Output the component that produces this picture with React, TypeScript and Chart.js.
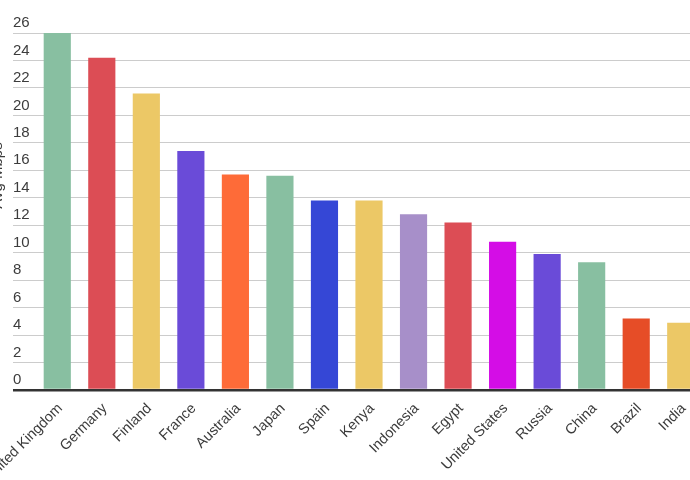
import React, { useEffect, useRef } from "react";
import { Chart, registerables } from "chart.js";

Chart.register(...registerables);

const categories = [
  "United Kingdom", "Germany", "Finland", "France", "Australia", "Japan", "Spain",
  "Kenya", "Indonesia", "Egypt", "United States", "Russia", "China", "Brazil", "India",
];
const avgMbps = [26.0, 24.2, 21.6, 17.4, 15.7, 15.6, 13.8, 13.8, 12.8, 12.2, 10.8, 9.9, 9.3, 5.2, 4.9];
const barColors = [
  "#88bfa1", "#dc4d55", "#ecc866", "#6a4bd8", "#fe6b38", "#88bfa1", "#3547d6",
  "#ecc866", "#a78fc9", "#dc4d55", "#d40de6", "#6a4bd8", "#88bfa1", "#e64d27", "#ecc866",
];
const yTitle = "Avg Mbps";
const yMin = 0;
const yMax = 26;
const yStep = 2;

const FONT = "'Liberation Sans', Arial, sans-serif";

const yTitlePlugin = {
  id: "yTitlePlugin",
  afterDraw(chart: any) {
    const { ctx, chartArea } = chart;
    ctx.save();
    ctx.translate(2, (chartArea.top + chartArea.bottom) / 2 - 36);
    ctx.rotate(-Math.PI / 2);
    ctx.font = `15px ${FONT}`;
    ctx.fillStyle = "#3c3c3c";
    ctx.textAlign = "center";
    ctx.textBaseline = "alphabetic";
    ctx.fillText(yTitle, 0, 0);
    ctx.restore();
  },
};

export default function App() {
  const ref = useRef<HTMLCanvasElement | null>(null);

  useEffect(() => {
    if (!ref.current) return;
    const chart = new Chart(ref.current, {
      type: "bar",
      data: {
        labels: categories,
        datasets: [
          {
            data: avgMbps,
            backgroundColor: barColors,
            borderWidth: 0,
            categoryPercentage: 1,
            barPercentage: 0.61,
          },
        ],
      },
      plugins: [yTitlePlugin],
      options: {
        animation: false,
        responsive: false,
        maintainAspectRatio: false,
        layout: { padding: { left: 13, top: 33, right: 17, bottom: 0 } },
        plugins: { legend: { display: false }, tooltip: { enabled: false } },
        scales: {
          x: {
            offset: true,
            grid: { display: false, drawTicks: false },
            border: { display: false },
            ticks: {
              autoSkip: false,
              minRotation: 45,
              maxRotation: 45,
              padding: 10,
              labelOffset: 3,
              color: "#3c3c3c",
              font: { family: FONT, size: 14.5 },
            },
            afterFit(scale: any) {
              scale.height = 90;
              scale.paddingLeft = 0;
              scale.paddingRight = 0;
            },
          },
          y: {
            min: yMin,
            max: yMax,
            border: { display: false },
            grid: {
              drawTicks: true,
              tickLength: 22,
              color: (ctx: any) => (ctx.tick && ctx.tick.value === 0 ? "#333333" : "#cccccc"),
              lineWidth: (ctx: any) => (ctx.tick && ctx.tick.value === 0 ? 2.5 : 1),
            },
            ticks: {
              stepSize: yStep,
              crossAlign: "far",
              padding: 0,
              labelOffset: -10,
              color: "#3c3c3c",
              font: { family: FONT, size: 15 },
            },
            afterFit(scale: any) {
              scale.width = 22;
            },
          },
        },
      },
    });
    return () => chart.destroy();
  }, []);

  return (
    <div
      style={{
        position: "fixed",
        left: 0,
        top: 0,
        width: 690,
        height: 480,
        overflow: "hidden",
        background: "#ffffff",
      }}
    >
      <canvas ref={ref} width={720} height={480} style={{ display: "block", width: 720, height: 480 }} />
    </div>
  );
}
